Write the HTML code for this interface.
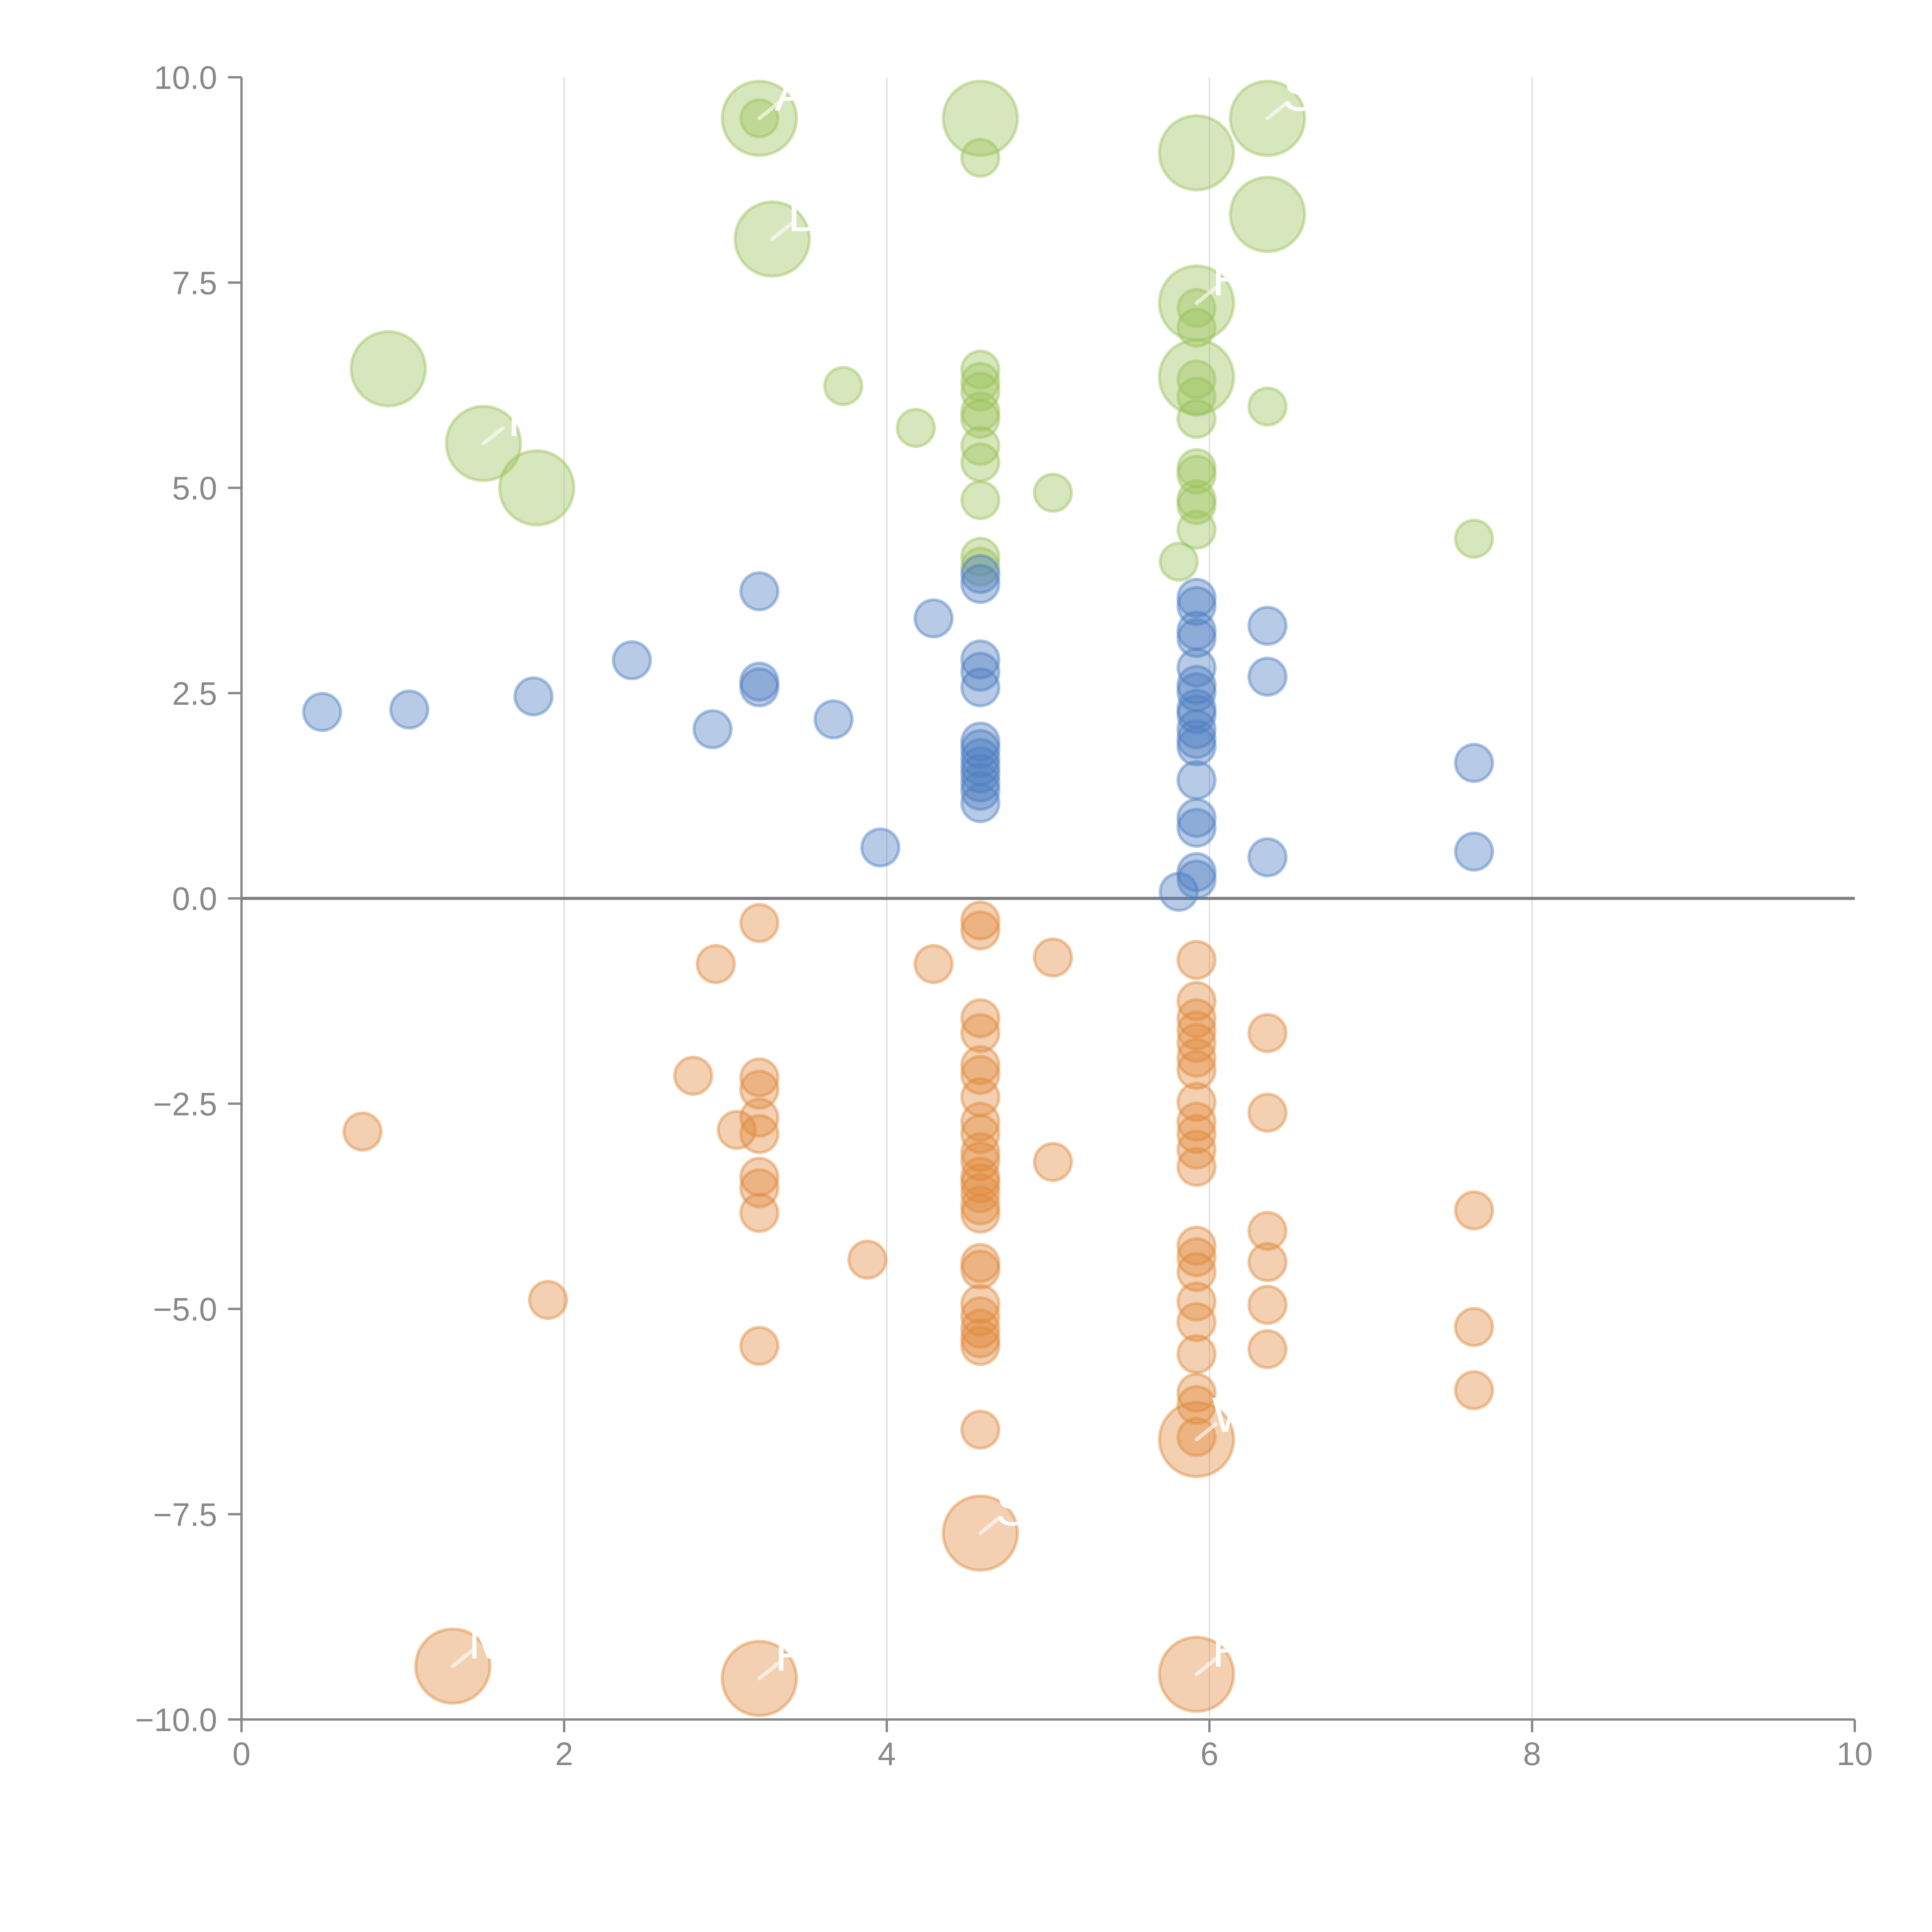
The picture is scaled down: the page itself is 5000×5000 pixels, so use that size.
<!DOCTYPE html>
<html><head><meta charset="utf-8"><style>html,body{margin:0;padding:0;background:#fff}svg{display:block}</style></head>
<body>
<svg id="chart" width="5000" height="5000" viewBox="0 0 5000 5000" xmlns="http://www.w3.org/2000/svg" font-family="Liberation Sans, Arial, sans-serif">
<g id="grid"></g>
<g id="axes"></g>
<g id="marks"></g>
<g id="labels"></g>
</svg>
<script>
const xTicks=[0,2,4,6,8,10];
const xTickLabels=["0","2","4","6","8","10"];
const yTicks=[-10,-7.5,-5,-2.5,0,2.5,5,7.5,10];
const yTickLabels=["−10.0","−7.5","−5.0","−2.5","0.0","2.5","5.0","7.5","10.0"];

const greenX=[3.21,3.21,4.58,4.58,5.92,6.36,6.36,3.29,5.92,5.92,5.92,5.92,5.92,5.92,5.92,6.36,0.91,1.50,1.83,3.73,4.18,4.58,4.58,4.58,4.58,4.58,4.58,4.58,4.58,4.58,4.58,5.03,5.92,5.92,5.92,5.92,5.92,5.81,7.64];
const greenY=[9.50,9.50,9.50,9.02,9.08,9.50,8.33,8.03,7.25,7.19,6.95,6.35,6.32,6.11,5.84,5.99,6.45,5.54,5.00,6.24,5.73,6.44,6.29,6.17,5.93,5.84,5.51,5.31,4.85,4.16,4.04,4.94,5.24,5.16,4.86,4.79,4.49,4.10,4.38];
const greenSize=[3,1,3,1,3,3,3,3,3,1,1,3,1,1,1,1,3,3,3,1,1,1,1,1,1,1,1,1,1,1,1,1,1,1,1,1,1,1,1];

const blueX=[0.50,1.04,1.81,2.42,2.92,3.21,3.21,3.21,3.67,3.96,4.29,4.58,4.58,4.58,4.58,4.58,4.58,4.58,4.58,4.58,4.58,4.58,4.58,4.58,5.81,5.92,5.92,5.92,5.92,5.92,5.92,5.92,5.92,5.92,5.92,5.92,5.92,5.92,5.92,5.92,5.92,5.92,6.36,6.36,6.36,7.64,7.64];
const blueY=[2.27,2.30,2.46,2.90,2.06,3.74,2.64,2.57,2.18,0.62,3.41,3.95,3.83,2.91,2.76,2.57,1.91,1.82,1.71,1.61,1.52,1.41,1.31,1.16,0.08,3.66,3.56,3.26,3.17,2.81,2.60,2.51,2.31,2.24,2.06,1.94,1.85,1.44,0.98,0.86,0.32,0.23,3.32,2.70,0.50,1.65,0.57];

const orangeX=[0.75,1.90,2.80,2.94,3.07,3.21,3.21,3.21,3.21,3.21,3.21,3.21,3.21,3.21,3.88,4.29,4.58,4.58,4.58,4.58,4.58,4.58,4.58,4.58,4.58,4.58,4.58,4.58,4.58,4.58,4.58,4.58,4.58,4.58,4.58,4.58,4.58,4.58,4.58,4.58,5.03,5.03,5.92,5.92,5.92,5.92,5.92,5.92,5.92,5.92,5.92,5.92,5.92,5.92,5.92,5.92,5.92,5.92,5.92,5.92,5.92,5.92,5.92,6.36,6.36,6.36,6.36,6.36,6.36,7.64,7.64,7.64,1.31,3.21,4.58,5.92,5.92];
const orangeY=[-2.84,-4.89,-2.16,-0.80,-2.82,-0.30,-2.18,-2.33,-2.67,-2.87,-3.39,-3.53,-3.83,-5.45,-4.40,-0.80,-0.27,-0.39,-1.46,-1.64,-2.03,-2.15,-2.42,-2.72,-2.87,-3.09,-3.20,-3.39,-3.47,-3.59,-3.74,-3.84,-4.44,-4.52,-4.94,-5.09,-5.24,-5.36,-5.45,-6.47,-0.72,-3.21,-0.75,-1.25,-1.46,-1.61,-1.76,-1.94,-2.09,-2.48,-2.72,-2.87,-3.06,-3.27,-4.23,-4.37,-4.55,-4.91,-5.16,-5.55,-6.02,-6.17,-6.56,-1.64,-2.61,-4.05,-4.43,-4.95,-5.49,-3.80,-5.22,-5.99,-9.35,-9.50,-7.73,-6.59,-9.45];
const orangeSize=[1,1,1,1,1,1,1,1,1,1,1,1,1,1,1,1,1,1,1,1,1,1,1,1,1,1,1,1,1,1,1,1,1,1,1,1,1,1,1,1,1,1,1,1,1,1,1,1,1,1,1,1,1,1,1,1,1,1,1,1,1,1,1,1,1,1,1,1,1,1,1,1,3,3,3,3,3];

const labelText=["A","STE","F","DE","TI","W","S","M","P","R"];
const labelX=[3.21,6.36,5.92,3.29,1.50,5.92,4.58,1.31,3.21,5.92];
const labelY=[9.50,9.50,7.25,8.03,5.54,-6.59,-7.73,-9.35,-9.50,-9.45];

const X0=625,X1=4800,YT=200,YB=4450;
function sx(v){return X0+(v-0)/(10-0)*(X1-X0);}
function sy(v){return YB-(v+10)/20*(YB-YT);}
const NS="http://www.w3.org/2000/svg";
function mk(tag,attrs,parent){const e=document.createElementNS(NS,tag);for(const k in attrs)e.setAttribute(k,attrs[k]);parent.appendChild(e);return e;}
const grid=document.getElementById('grid'),axes=document.getElementById('axes'),marks=document.getElementById('marks'),labels=document.getElementById('labels');

xTicks.forEach((t,i)=>{
  if(t>0&&t<10){const g=mk('line',{x1:sx(t),x2:sx(t),y1:YT,y2:YB,stroke:'#d9d9d9','stroke-width':3},grid);
  
  }
  const tk=mk('line',{x1:sx(t),x2:sx(t),y1:YB,y2:YB+33,stroke:'#888','stroke-width':6},axes);
  
  
  const tx=mk('text',{x:sx(t),y:4568,'text-anchor':'middle','font-size':84,fill:'#888'},axes);
  tx.textContent=xTickLabels[i];
  
  
});
yTicks.forEach((t,i)=>{
  const tk=mk('line',{x1:X0-35,x2:X0,y1:sy(t),y2:sy(t),stroke:'#888','stroke-width':6},axes);
  
  
  const tx=mk('text',{x:562,y:sy(t)+30,'text-anchor':'end','font-size':84,fill:'#888'},axes);
  tx.textContent=yTickLabels[i];
  
  
});
const ya=mk('line',{x1:X0,x2:X0,y1:YT,y2:YB+3,stroke:'#888','stroke-width':6},axes);


const xa=mk('line',{x1:X0-3,x2:X1,y1:YB,y2:YB,stroke:'#888','stroke-width':6},axes);


const zl=mk('line',{x1:X0,x2:X1,y1:sy(0),y2:sy(0),stroke:'#808080','stroke-width':8},axes);



function series(xs,ys,sz,fill,stroke,name){
  xs.forEach((x,i)=>{
    const r=(sz&&sz[i]===3)?96:48;
    const c=mk('circle',{cx:sx(x),cy:sy(ys[i]),r:r,fill:fill,'fill-opacity':0.4,stroke:stroke,'stroke-opacity':0.45,'stroke-width':8},marks);
    
    
  });
}
series(greenX,greenY,greenSize,'#9bc25a','#9bc25a','green-bubble');
series(blueX,blueY,null,'#4e7ec0','#4e7ec0','blue-bubble');
series(orangeX,orangeY,orangeSize,'#e08a3c','#e08a3c','orange-bubble');

labelText.forEach((t,i)=>{
  const cx=sx(labelX[i]),cy=sy(labelY[i]);
  const l=mk('line',{x1:cx,y1:cy,x2:cx+50,y2:cy-40,stroke:'#fff','stroke-opacity':0.6,'stroke-width':10,'stroke-linecap':'round'},labels);
  
  
  const tx=mk('text',{x:cx+40,y:cy-20,'font-size':128,fill:'#fff'},labels);
  tx.textContent=t;
  
  
});
</script>
</body></html>
